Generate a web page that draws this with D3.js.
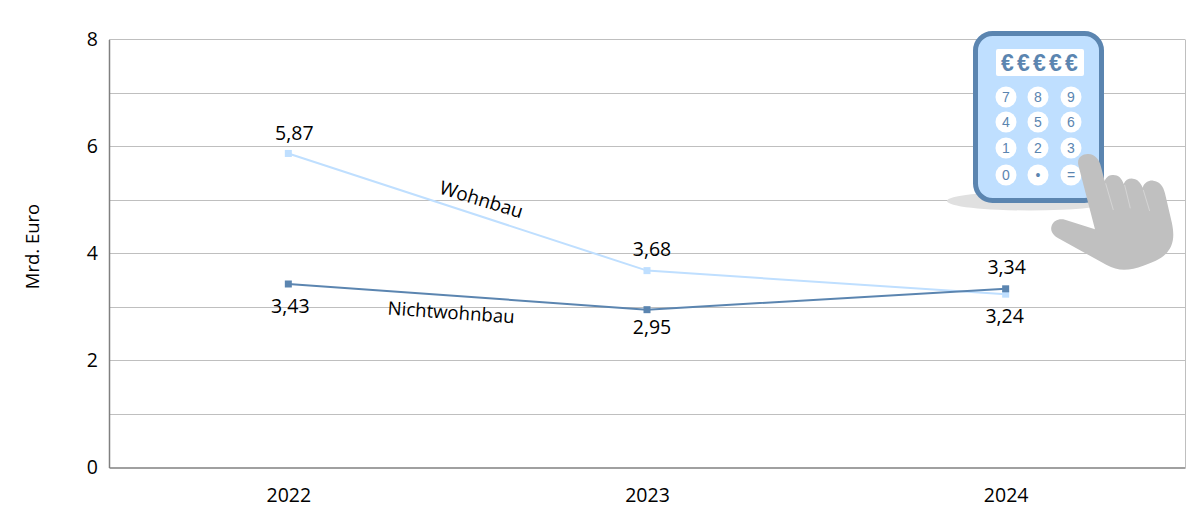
<!DOCTYPE html>
<html>
<head>
<meta charset="utf-8">
<script src="https://cdnjs.cloudflare.com/ajax/libs/d3/7.8.5/d3.min.js"></script>
<style>
  html, body { margin: 0; background: #fff; }
  svg { display: block; }
  text { font-family: "Open Sans", sans-serif; fill: #000; }
</style>
</head>
<body>
<script>
const years = ['2022', '2023', '2024'];
const wohnbau = [5.87, 3.68, 3.24];
const nichtwohnbau = [3.43, 2.95, 3.34];
const yTicks = [0, 2, 4, 6, 8];
const gridValues = [1, 2, 3, 4, 5, 6, 7, 8];
const keys = [['7', '8', '9'], ['4', '5', '6'], ['1', '2', '3'], ['0', '•', '=']];

const w = 1200;
const h = 528;
const plotLeft = 109, plotRight = 1185, plotTop = 39.5, plotBottom = 467.5;
const lightBlue = '#bfdfff';
const darkBlue = '#5b85b0';

const svg = d3.select('body').append('svg')
  .attr('width', w)
  .attr('height', h);

const x = d3.scalePoint().domain(years).range([plotLeft, plotRight]).padding(0.5);
const y = d3.scaleLinear().domain([0, 8]).range([plotBottom, plotTop]);
const fmt = v => v.toFixed(2).replace('.', ',');

// grid
svg.selectAll('.grid')
  .data(gridValues)
  .enter()
  .append('line')
  .attr('class', 'grid')
  .attr('x1', plotLeft)
  .attr('x2', plotRight)
  .attr('y1', d => Math.floor(y(d)) + 0.5)
  .attr('y2', d => Math.floor(y(d)) + 0.5)
  .attr('stroke', '#bfbfbf');

svg.append('line')
  .attr('x1', plotRight + 0.5).attr('x2', plotRight + 0.5)
  .attr('y1', plotTop).attr('y2', plotBottom)
  .attr('stroke', '#bfbfbf');

// axes
const yAxis = svg.append('g')
  .attr('transform', `translate(${plotLeft},0)`)
  .call(d3.axisLeft(y).tickValues(yTicks).tickSize(0).tickPadding(11));
const xAxis = svg.append('g')
  .attr('transform', `translate(0,${plotBottom})`)
  .call(d3.axisBottom(x).tickSize(0).tickPadding(21));
[yAxis, xAxis].forEach(a => {
  a.select('.domain').attr('stroke', '#808080').attr('stroke-width', 1.5);
  a.selectAll('text').style('font-family', '"Open Sans", sans-serif').style('font-size', '19.5px').attr('fill', '#000');
});

svg.append('text')
  .attr('transform', 'translate(34,246.5) rotate(-90)')
  .attr('text-anchor', 'middle')
  .attr('dominant-baseline', 'middle')
  .style('font-size', '18.5px')
  .text('Mrd. Euro');

// lines
const line = d3.line().x((d, i) => x(years[i])).y(d => y(d));

function drawSeries(values, color, dx, dy) {
  svg.append('path')
    .attr('d', line(values))
    .attr('fill', 'none')
    .attr('stroke', color)
    .attr('stroke-width', 2);
  svg.selectAll(null)
    .data(values)
    .enter()
    .append('rect')
    .attr('x', (d, i) => x(years[i]) - 3.5)
    .attr('y', d => y(d) - 3.5)
    .attr('width', 7)
    .attr('height', 7)
    .attr('fill', color);
  svg.selectAll(null)
    .data(values)
    .enter()
    .append('text')
    .attr('x', (d, i) => x(years[i]) + dx[i])
    .attr('y', (d, i) => y(d) + dy[i])
    .attr('text-anchor', 'middle')
    .attr('dominant-baseline', 'middle')
    .style('font-size', '19.5px')
    .text(fmt);
}

drawSeries(wohnbau, lightBlue, [6, 5, -1], [-19, -20, 24]);
drawSeries(nichtwohnbau, darkBlue, [2, 5, 1], [24, 19, -20]);

svg.append('text')
  .attr('transform', 'translate(481,201) rotate(17)')
  .attr('text-anchor', 'middle')
  .attr('dominant-baseline', 'middle')
  .style('font-size', '19px')
  .text('Wohnbau');
svg.append('text')
  .attr('transform', 'translate(451,314) rotate(4)')
  .attr('text-anchor', 'middle')
  .attr('dominant-baseline', 'middle')
  .style('font-size', '18.6px')
  .text('Nichtwohnbau');

// calculator picture
const calc = svg.append('g');
calc.append('ellipse')
  .attr('cx', 1030).attr('cy', 201).attr('rx', 83).attr('ry', 9.5)
  .attr('fill', '#e0e0e0');
calc.append('rect')
  .attr('x', 975.5).attr('y', 33.5).attr('width', 126).attr('height', 167).attr('rx', 17)
  .attr('fill', lightBlue)
  .attr('stroke', darkBlue)
  .attr('stroke-width', 5);
calc.append('rect')
  .attr('x', 996).attr('y', 49).attr('width', 88).attr('height', 27).attr('rx', 2)
  .attr('fill', '#fff');
calc.append('text')
  .attr('x', 1041).attr('y', 62.5)
  .attr('text-anchor', 'middle')
  .attr('dominant-baseline', 'central')
  .style('font-family', '"Liberation Sans", sans-serif')
  .style('font-size', '23px')
  .style('font-weight', 'bold')
  .style('letter-spacing', '3.2px')
  .style('fill', darkBlue)
  .text('€€€€€');

const keyX = [1006, 1038, 1071];
const keyY = [97, 122, 148, 175];
keys.forEach((row, r) => row.forEach((k, c) => {
  calc.append('circle')
    .attr('cx', keyX[c]).attr('cy', keyY[r]).attr('r', 10.5)
    .attr('fill', '#fff');
  calc.append('text')
    .attr('x', keyX[c]).attr('y', keyY[r])
    .attr('text-anchor', 'middle')
    .attr('dominant-baseline', 'central')
    .style('font-family', '"Liberation Sans", sans-serif')
    .style('font-size', '14px')
    .style('fill', darkBlue)
    .text(k);
}));

// hand, path in 3x crop coordinates
const hand = calc.append('g').attr('transform', 'translate(930,20) scale(0.3333)');
hand.append('path')
  .attr('fill', '#c0c0c0')
  .attr('d', 'M445 435 C440 412 458 401 475 402 C495 403 508 418 513 440 L524 483 C530 468 540 465 550 465 C565 465 576 475 581 492 C586 480 596 475 608 476 C622 477 632 487 638 503 C644 487 655 481 670 482 C688 484 700 497 705 520 L726 610 C734 650 730 675 712 697 C695 716 670 727 640 737 C600 752 565 755 530 735 L385 655 C368 645 360 632 365 617 C371 602 385 595 405 599 L495 628 Z');
[[527, 490, 550, 570], [584, 495, 601, 565], [640, 510, 659, 573]].forEach(s => {
  hand.append('line')
    .attr('x1', s[0]).attr('y1', s[1]).attr('x2', s[2]).attr('y2', s[3])
    .attr('stroke', '#e8e8e8').attr('stroke-width', 1.5);
});
</script>
</body>
</html>
